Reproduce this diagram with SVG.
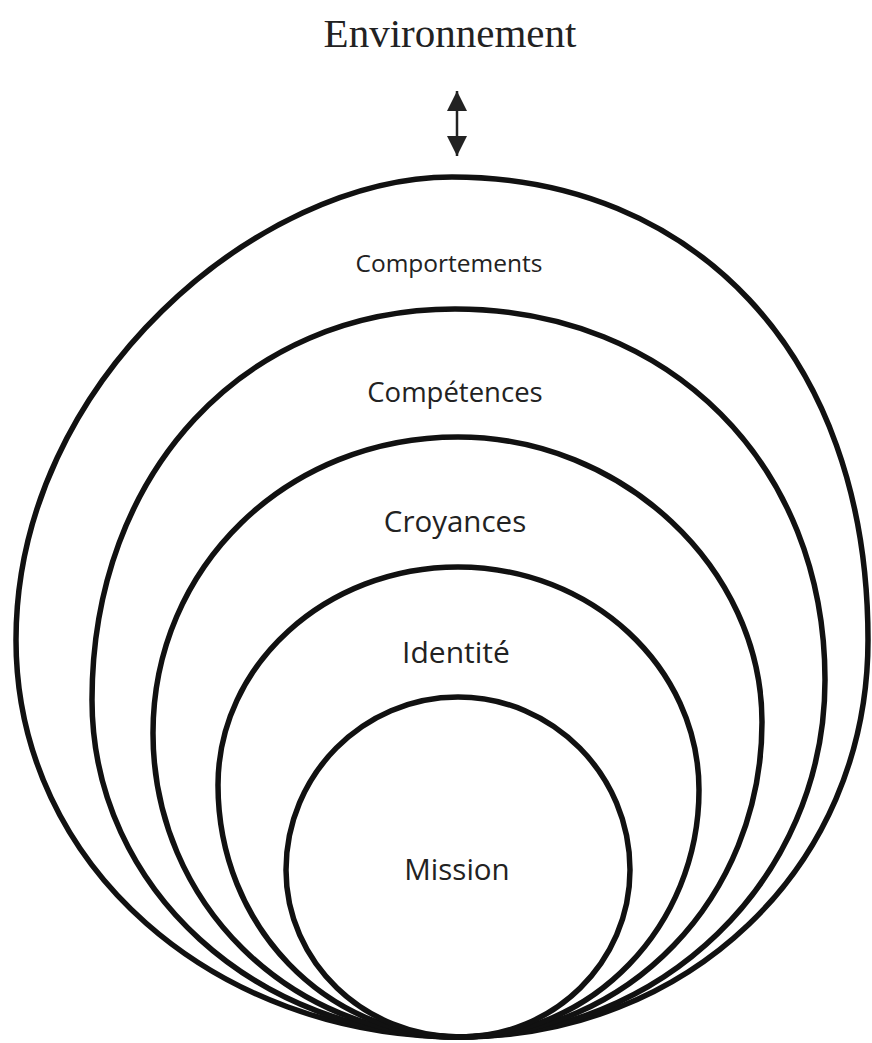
<svg xmlns="http://www.w3.org/2000/svg" width="872" height="1043" viewBox="0 0 872 1043">
<style>
.ring{fill:none;stroke:#111;stroke-width:5.5}
.lbl{font-family:"Open Sans","Liberation Sans",sans-serif;fill:#222;text-anchor:middle}
.title{font-family:"Liberation Serif","Times New Roman",serif;fill:#222;text-anchor:middle}
.arrow{stroke:#222;stroke-width:2.5;fill:none}
</style>
<defs>
<marker id="head" viewBox="0 0 20 20" refX="20" refY="10" markerWidth="20" markerHeight="20" markerUnits="userSpaceOnUse" orient="auto-start-reverse">
<path d="M0,0 L20,10 L0,20 Z" fill="#222"/>
</marker>
</defs>
<rect width="872" height="1043" fill="#fff"/>
<g id="environnement">
<text class="title" x="450" y="47" font-size="41">Environnement</text>
</g>
<g id="connectors">
<line class="arrow" x1="457" y1="91" x2="457" y2="156" marker-start="url(#head)" marker-end="url(#head)"/>
</g>
<g id="comportements">
<path class="ring" d="M460,1037 C215,1037 16,866 16,640 C16,380 260,177 452,177 C690,177 868,350 868,640 C868,870 685,1037 460,1037 Z"/>
<text class="lbl" x="449" y="272" font-size="24.5">Comportements</text>
</g>
<g id="competences">
<path class="ring" d="M460,1037 C257,1037 92,889 92,700 C92,473 244,309 455,309 C670,309 825,465 825,680 C825,880 661,1037 460,1037 Z"/>
<text class="lbl" x="455" y="402" font-size="27.5">Compétences</text>
</g>
<g id="croyances">
<path class="ring" d="M460,1037 C290,1037 153,903 153,733 C153,567 287,437 458,437 C622,437 762,568 762,722 C762,898 627,1037 460,1037 Z"/>
<text class="lbl" x="455" y="532" font-size="29.5">Croyances</text>
</g>
<g id="identite">
<path class="ring" d="M460,1037 C326,1037 218,926 218,785 C218,665 326,567 458,567 C591,567 699,667 699,790 C699,926 592,1037 460,1037 Z"/>
<text class="lbl" x="456" y="663" font-size="30">Identité</text>
</g>
<g id="mission">
<path class="ring" d="M460,1037 C364,1037 286,962 286,870 C286,775 363,697 458,697 C553,697 630,775 630,870 C630,962 554,1037 460,1037 Z"/>
<text class="lbl" x="457" y="880" font-size="29.5">Mission</text>
</g>
</svg>
